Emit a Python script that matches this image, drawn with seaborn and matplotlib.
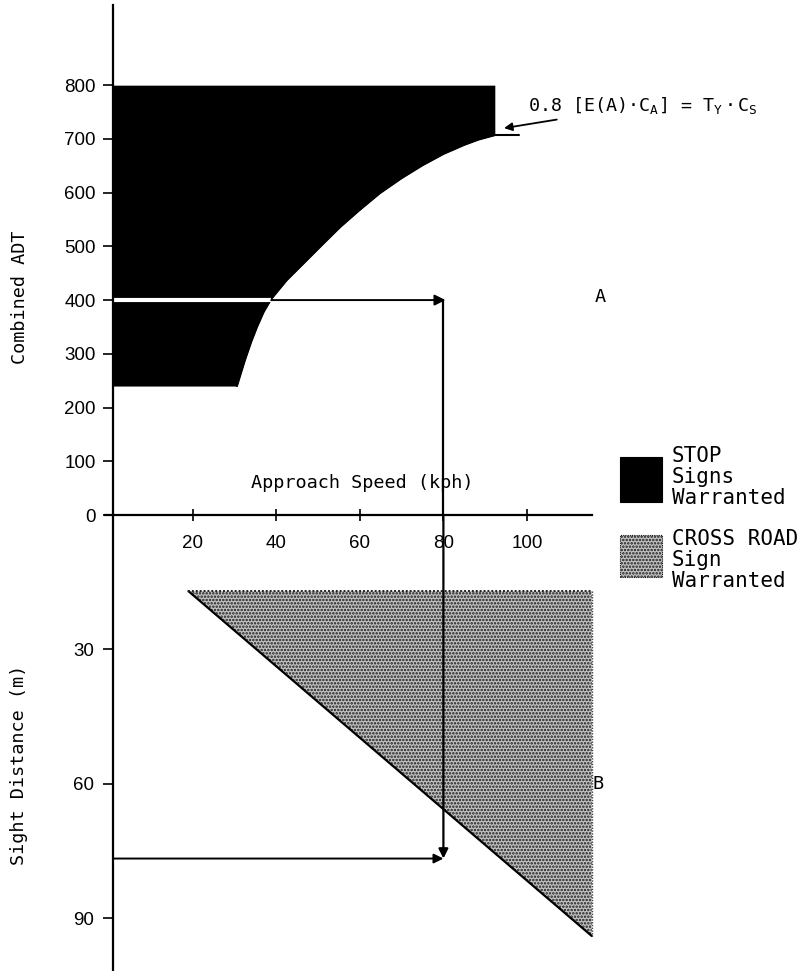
import numpy as np
import matplotlib
matplotlib.use("Agg")
import matplotlib.pyplot as plt
import seaborn as sns
from matplotlib.patches import Rectangle

# values
speed_ticks = [20, 40, 60, 80, 100]
adt_ticks = [0, 100, 200, 300, 400, 500, 600, 700, 800]
sd_ticks = [30, 60, 90]

# boundary of the STOP region (approach speed kph vs combined ADT)
curve_speed = [30.6, 32.5, 34.0, 35.4, 37.0, 38.8, 42.5, 47.4, 51.0, 55.3, 60.0, 64.8,
               70.0, 75.0, 80.0, 85.0, 88.5, 92.3]
curve_adt = [240, 288, 322, 350, 378, 402, 437, 475, 503, 536, 568, 599,
             627, 651, 672, 689, 699, 707]
stop_top_adt = 800
curve_tail_speed = [92.3, 98.2]
curve_tail_adt = [707, 707]

# CROSS ROAD region (speed vs sight distance m)
cross_speed = [19.0, 115.5]
cross_sd_top = [17.0, 17.0]
cross_sd_bottom = [17.0, 94.0]

# worked example
ex_adt = 400
ex_speed = 80
ex_curve_speed = 38.8
ex_sd = 76.7

W, H = 803, 971
sns.set_theme(style="white")
plt.rcParams["font.family"] = ["DejaVu Sans"]
plt.rcParams["text.color"] = "black"
plt.rcParams["axes.labelcolor"] = "black"
plt.rcParams["hatch.color"] = "#1a1a1a"
plt.rcParams["hatch.linewidth"] = 1.2
plt.rcParams["mathtext.fontset"] = "custom"
plt.rcParams["mathtext.rm"] = "DejaVu Sans Mono"
plt.rcParams["mathtext.it"] = "DejaVu Sans Mono"

mono = "DejaVu Sans Mono"
tickfont = "Liberation Sans"
dot_face = "#c2c2c2"

fig = plt.figure(figsize=(W / 100, H / 100), dpi=100)
# top panel: x axis at pixel row 515
ax1 = fig.add_axes([0, (H - 515) / H, 1, 515 / H])
ax2 = fig.add_axes([0, 0, 1, (H - 515) / H])
xlim = (-109 / 4.18, (W - 109) / 4.18)
for ax in (ax1, ax2):
    ax.set_xlim(*xlim)
    ax.patch.set_alpha(0)
    for s in ("top", "right"):
        ax.spines[s].set_visible(False)
    ax.spines["left"].set_position(("data", 1))
    ax.spines["left"].set_linewidth(1.6)
    ax.spines["left"].set_color("black")
ax1.set_ylim(0, 515 / 0.5373)
ax2.set_ylim((H - 515) / 4.479, 0)

# ---- top panel
ax1.spines["left"].set_bounds(0, 950)
ax1.spines["bottom"].set_bounds(-1, 115.5)
ax1.spines["bottom"].set_linewidth(1.6)
ax1.spines["bottom"].set_color("black")
ax1.set_xticks(speed_ticks)
ax1.set_yticks(adt_ticks)
ax1.tick_params(axis="x", direction="inout", length=8.6, width=1.2, pad=10, colors="black",
                labelsize=13.5, bottom=True)
ax1.tick_params(axis="y", direction="out", length=7, width=1.2, pad=5.5, colors="black",
                labelsize=13.5, left=True)
for lab in ax1.get_xticklabels() + ax1.get_yticklabels():
    lab.set_family(tickfont)

edge_adt = curve_adt + [stop_top_adt]
edge_speed = curve_speed + [curve_speed[-1]]
ax1.fill_betweenx(edge_adt, 1, edge_speed, color="black", lw=0)
sns.lineplot(x=curve_speed, y=curve_adt, ax=ax1, color="black", lw=1.5, sort=False, estimator=None)
sns.lineplot(x=curve_tail_speed, y=curve_tail_adt, ax=ax1, color="black", lw=1.5, sort=False, estimator=None)

# example: ADT 400 across, then down to sight distance
ax1.plot([1, ex_curve_speed], [ex_adt, ex_adt], color="white", lw=3, solid_capstyle="butt")
ax1.annotate("", xy=(ex_speed + 0.5, ex_adt), xytext=(ex_curve_speed, ex_adt),
             arrowprops=dict(arrowstyle="-|>", lw=1.4, color="black", mutation_scale=16,
                             shrinkA=0, shrinkB=0))
ax1.plot([ex_speed, ex_speed], [ex_adt, 0], color="black", lw=1.6, clip_on=False)

ax1.set_ylabel("Combined ADT", family=mono, fontsize=13.3)
ax1.yaxis.set_label_coords(29 / W, (515 - 297) / 515)
ax1.text(60.5, 60, "Approach Speed (kph)", family=mono, fontsize=13.3, ha="center", va="center")
ax1.text(117.5, 406, "A", family=mono, fontsize=13.3, ha="center", va="center")
ax1.annotate(r"0.8 [E(A)$\cdot$C$_A$] = T$_Y\cdot$C$_S$", xy=(94.5, 720), xytext=(100.3, 762),
             family=mono, fontsize=13.2, ha="left", va="center",
             arrowprops=dict(arrowstyle="-|>", lw=1.3, color="black", mutation_scale=12,
                             shrinkA=1, shrinkB=0))

# ---- bottom panel
ax2.spines["bottom"].set_visible(False)
ax2.spines["left"].set_bounds(0, 101.8)
ax2.set_xticks([])
ax2.set_yticks(sd_ticks)
ax2.tick_params(axis="y", direction="out", length=7, width=1.2, pad=6.5, colors="black",
                labelsize=13.5, left=True)
for lab in ax2.get_yticklabels():
    lab.set_family(tickfont)

ax2.fill_between(cross_speed, cross_sd_top, cross_sd_bottom, facecolor=dot_face,
                 hatch=".....", edgecolor="#1a1a1a", lw=0)
sns.lineplot(x=cross_speed, y=cross_sd_bottom, ax=ax2, color="black", lw=1.6, sort=False, estimator=None)
sns.lineplot(x=cross_speed, y=cross_sd_top, ax=ax2, color="#222222", lw=1.4, ls=(0, (1, 1)),
             sort=False, estimator=None)
sns.lineplot(x=[cross_speed[1]] * 2, y=[cross_sd_top[1], cross_sd_bottom[1]], ax=ax2,
             color="#444444", lw=1.0, ls=(0, (1, 1)), sort=False, estimator=None)

ax2.annotate("", xy=(ex_speed, ex_sd), xytext=(ex_speed, 0),
             arrowprops=dict(arrowstyle="-|>", lw=1.6, color="black", mutation_scale=14,
                             shrinkA=0, shrinkB=0))
ax2.annotate("", xy=(ex_speed, ex_sd), xytext=(1, ex_sd),
             arrowprops=dict(arrowstyle="-|>", lw=1.4, color="black", mutation_scale=14,
                             shrinkA=0, shrinkB=0))

ax2.set_ylabel("Sight Distance (m)", family=mono, fontsize=13.3)
ax2.yaxis.set_label_coords(28 / W, (H - 765) / (H - 515))
ax2.text(117, 60, "B", family=mono, fontsize=13.3, ha="center", va="center")

# ---- key
fig.patches.append(Rectangle((620 / W, 1 - 502 / H), 42 / W, 45 / H, transform=fig.transFigure,
                             facecolor="black", edgecolor="black", lw=0.8))
fig.patches.append(Rectangle((620 / W, 1 - 577 / H), 42 / W, 42 / H, transform=fig.transFigure,
                             facecolor=dot_face, edgecolor="#1a1a1a", hatch=".....", lw=0.8,
                             ls=(0, (1, 1))))
fig.text(672 / W, 1 - 477 / H, "STOP\nSigns\nWarranted", family=mono, fontsize=15,
         ha="left", va="center", linespacing=1.08)
fig.text(672 / W, 1 - 560 / H, "CROSS ROAD\nSign\nWarranted", family=mono, fontsize=15,
         ha="left", va="center", linespacing=1.08)

fig.savefig("out.png", dpi=100, facecolor="white")
